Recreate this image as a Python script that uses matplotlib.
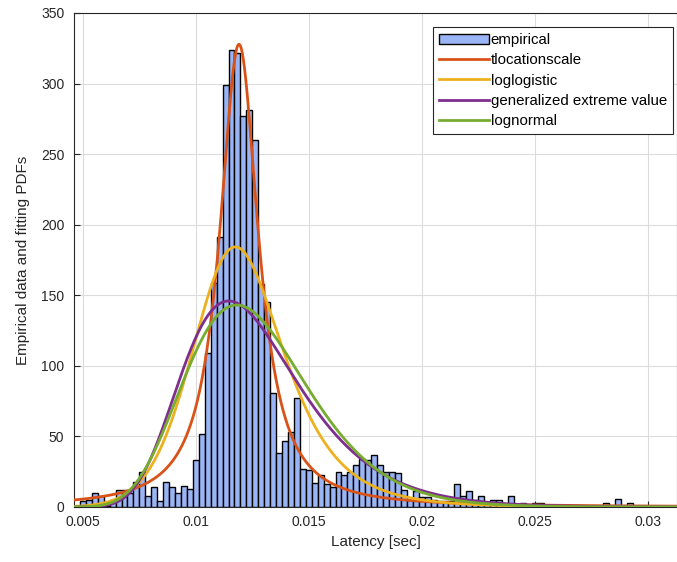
import math
import numpy as np
import matplotlib
matplotlib.use("Agg")
import matplotlib.pyplot as plt

# histogram (counts per bin, bins of equal width starting at bin_start)
bin_start = 0.004863
bin_width = 0.000263
counts = [4, 5, 10, 8, 1, 5, 12, 12, 10, 18,
          25, 8, 14, 4, 18, 14, 10, 15, 13, 33,
          52, 109, 159, 191, 299, 324, 322, 277, 281, 260,
          158, 145, 81, 38, 47, 53, 77, 27, 26, 17,
          23, 16, 14, 25, 23, 25, 30, 34, 33, 37,
          30, 25, 25, 24, 12, 5, 11, 7, 7, 5,
          4, 4, 4, 16, 8, 11, 5, 8, 2, 5,
          5, 2, 8, 2, 3, 1, 3, 3, 1, 0,
          0, 0, 0, 0, 0, 0, 1, 0, 3, 0,
          6, 0, 3, 0, 1, 1, 0, 1, 0, 1]

# fitted distributions (parameters)
n_obs = 3800
tls_params = (0.0119, 0.001003, 1.2)          # mu, sigma, nu
loglog_params = (math.log(0.01205), 0.114)    # mu, sigma (of log x)
gev_params = (-0.03, 0.00252, 0.01137)        # k, sigma, mu
logn_params = (-4.3868, 0.23)                 # mu, sigma (of log x)

labels = ["empirical", "tlocationscale", "loglogistic",
          "generalized extreme value", "lognormal"]
colors = ["#D95319", "#EDB120", "#7E2F8E", "#77AC30"]


def tls_pdf(x, mu, s, nu):
    z = (x - mu) / s
    c = math.gamma((nu + 1) / 2) / (math.sqrt(nu * math.pi) * math.gamma(nu / 2))
    return c / s * (1 + z ** 2 / nu) ** (-(nu + 1) / 2)


def loglog_pdf(x, mu, s):
    z = (np.log(x) - mu) / s
    return np.exp(z) / (s * x * (1 + np.exp(z)) ** 2)


def gev_pdf(x, k, s, mu):
    t = 1 + k * (x - mu) / s
    out = np.zeros_like(x)
    ok = t > 0
    tt = t[ok]
    out[ok] = (1 / s) * tt ** (-1 - 1 / k) * np.exp(-tt ** (-1 / k))
    return out


def logn_pdf(x, mu, s):
    return np.exp(-(np.log(x) - mu) ** 2 / (2 * s ** 2)) / (x * s * math.sqrt(2 * math.pi))


plt.rcParams["font.family"] = ["Liberation Sans", "DejaVu Sans"]
fig = plt.figure(figsize=(6.77, 5.62), dpi=100)
ax = fig.add_axes([0.1093, 0.0979, 0.8907, 0.879])

edges = bin_start + bin_width * np.arange(len(counts))
bars = ax.bar(edges, counts, width=bin_width, align="edge", color="#9AB5F5",
              edgecolor="black", linewidth=1.0, label=labels[0], zorder=2)

x = np.linspace(0.0046, 0.0314, 800)
scale = n_obs * bin_width
curves = [tls_pdf(x, *tls_params), loglog_pdf(x, *loglog_params),
          gev_pdf(x, *gev_params), logn_pdf(x, *logn_params)]
lines = []
for y, c, lab in zip(curves, colors, labels[1:]):
    ln, = ax.plot(x, y * scale, color=c, linewidth=2, label=lab, zorder=3)
    lines.append(ln)

ax.set_xlim(0.0046, 0.03128)
ax.set_ylim(0, 350)
ax.set_xticks([0.005, 0.01, 0.015, 0.02, 0.025, 0.03])
ax.set_xticklabels(["0.005", "0.01", "0.015", "0.02", "0.025", "0.03"])
ax.set_yticks(range(0, 351, 50))
ax.grid(True, color="#DCDCDC", linewidth=0.8, zorder=0)
ax.set_axisbelow(True)
ax.tick_params(direction="in", length=4, labelsize=10, colors="#262626")
ax.tick_params(axis="y", pad=7)
ax.tick_params(axis="x", pad=6)
for sp in ax.spines.values():
    sp.set_color("#262626")
ax.set_xlabel("Latency [sec]", fontsize=11, color="#262626", labelpad=4)
ax.set_ylabel("Empirical data and fitting PDFs", fontsize=11, color="#262626",
              labelpad=8)

leg = ax.legend([bars] + lines, labels, loc="upper right",
                bbox_to_anchor=(673 / 677, 1 - 27 / 562),
                bbox_transform=fig.transFigure, fontsize=10.8,
                handlelength=3.3, handletextpad=0.15, borderpad=0.4,
                labelspacing=0.42, fancybox=False, framealpha=1,
                borderaxespad=0)
leg.get_frame().set_edgecolor("#262626")
leg.get_frame().set_linewidth(0.8)

fig.savefig("out.png", dpi=100)
